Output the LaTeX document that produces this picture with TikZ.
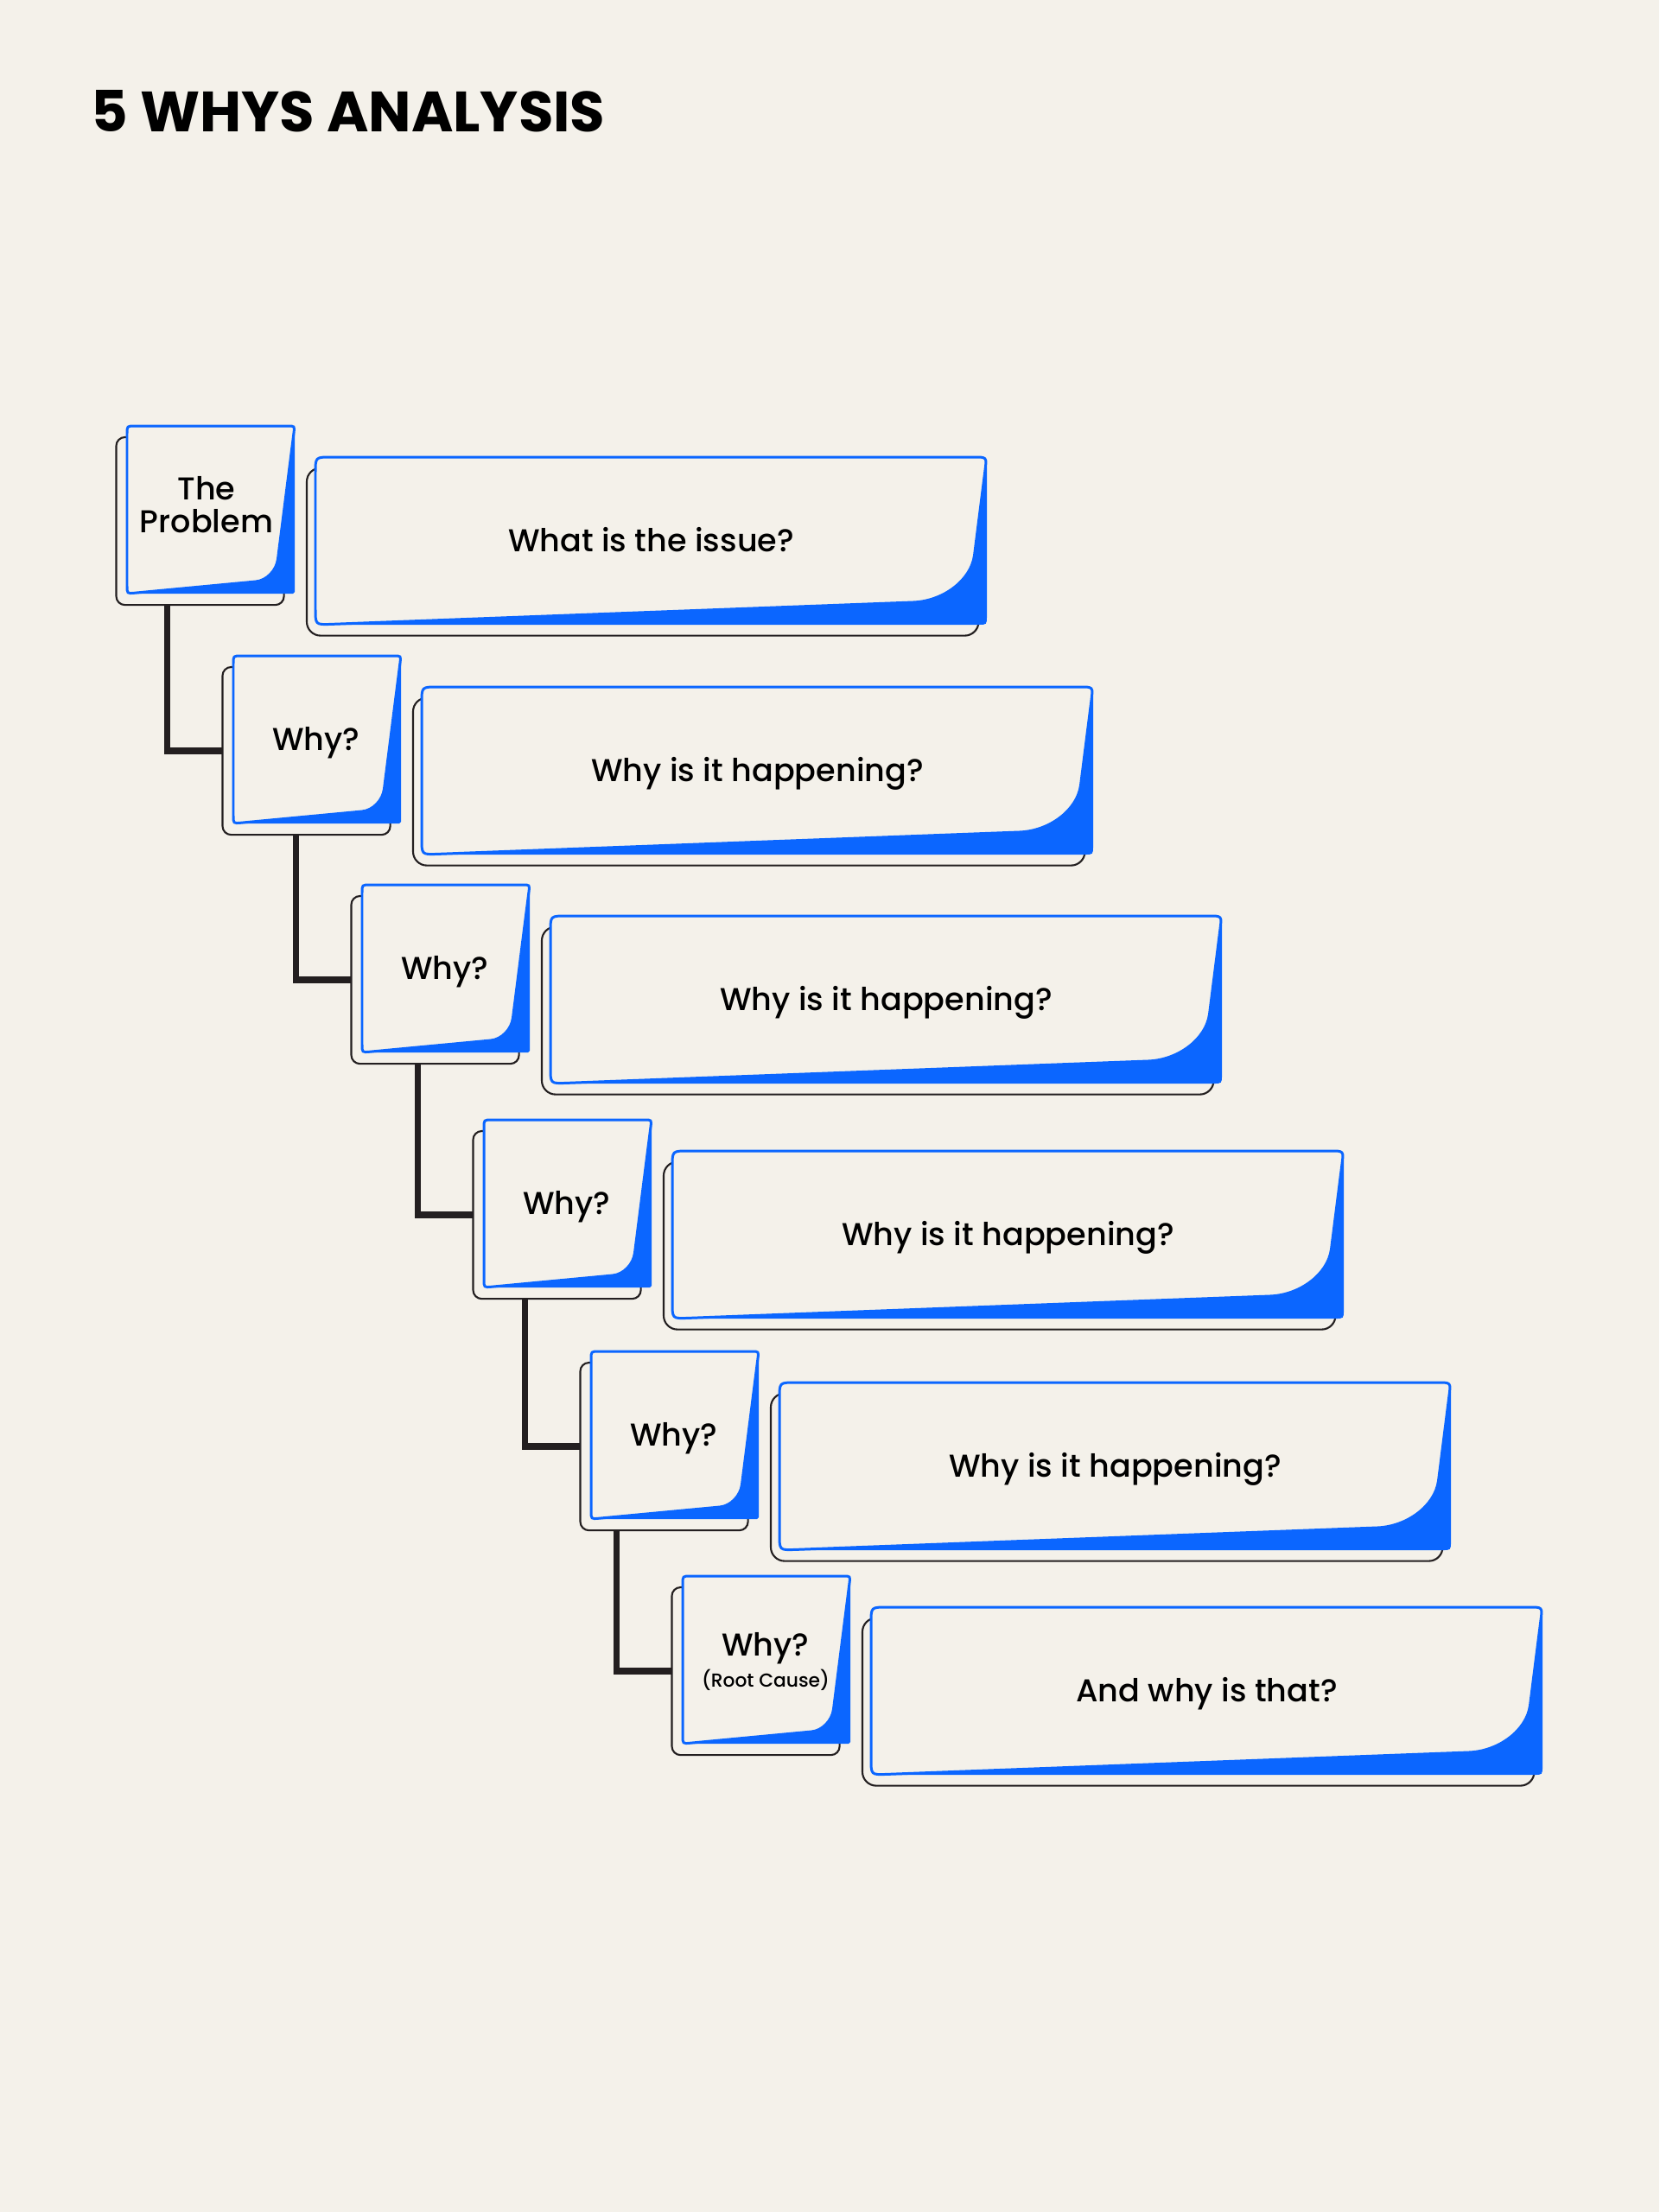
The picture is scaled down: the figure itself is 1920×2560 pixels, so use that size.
\documentclass[tikz,border=0pt]{standalone}
\usepackage{fontspec}
\setmainfont{Poppins}[UprightFont=* Medium,BoldFont=* Bold]
\usepackage{tikz}
\usetikzlibrary{positioning}
\definecolor{paper}{HTML}{F4F1EA}
\definecolor{whyblue}{HTML}{0B66FF}
\definecolor{ink}{HTML}{231F20}

\tikzset{
  sheet/.style={fill=paper, draw=whyblue, line width=0.85pt},
  smallsheet/.pic={
    \fill[whyblue] (186,0) .. controls (194,0) .. (194,8) -- (194,192) -- (192,194) -- (9,194) -- cycle;
    \filldraw[sheet] (0,97) -- (0,9) .. controls (0,0) .. (9,0) -- (186,0)
      .. controls (194,0) .. (193,8) -- (174.5,154)
      .. controls (172.9,167.2) and (161.4,178.9) .. (149,180)
      -- (9,193.2) .. controls (0,194) .. (0,185) -- cycle;
  },
  bigsheet/.pic={
    \fill[whyblue] (762,0) .. controls (777,0) .. (777,15) -- (777,184) .. controls (777,194) .. (767,194) -- (18,194) -- cycle;
    \filldraw[sheet] (0,97) -- (0,18) .. controls (0,0) .. (18,0) -- (762,0)
      .. controls (777,0) .. (775,15) -- (762.5,114)
      .. controls (758.5,142.5) and (726.5,166.8) .. (691.5,168)
      -- (18,193.4) .. controls (0,194) .. (0,176) -- cycle;
  }
}

\begin{document}
\begin{tikzpicture}[x=0.01cm, y=-0.01cm]
  \tikzstyle{backsmall}=[draw=ink, fill=paper, line width=0.6pt, rounded corners=0.1cm,
    anchor=north west, minimum width=1.94cm, minimum height=1.94cm, inner sep=0pt, outer sep=0pt]
  \tikzstyle{backbig}=[backsmall, rounded corners=0.16cm, minimum width=7.77cm]
  \tikzstyle{whytext}=[text=black, anchor=base, inner sep=0pt, align=center,
    font=\fontsize{10.4}{10.73}\selectfont]
  \tikzstyle{roottext}=[whytext, font=\fontsize{6.2}{7}\selectfont]
  \tikzstyle{link}=[draw=ink, line width=2.1pt]
  \useasboundingbox (0,0) rectangle (1920,2560);
  \fill[paper] (0,0) rectangle (1920,2560);

  \node[text=black, anchor=base west, inner sep=0pt, font=\bfseries\fontsize{18.7}{20}\selectfont]
    (title) at (105,152) {5 WHYS ANALYSIS};

  % the problem
  \node[backsmall] (b1) at (134.5,506) {};
  \node[backbig] (c1) at (355,541.5) {};
  \pic at (147,493) {smallsheet};
  \pic at (365,529) {bigsheet};
  \node[whytext] (s1) at (239,616.7) {The\\Problem};
  \node[whytext] (q1) at (753.5,638) {What is the issue?};

  % why 1
  \node[backsmall] (b2) at (257.5,772) {};
  \node[backbig] (c2) at (478,807.5) {};
  \pic at (270,759) {smallsheet};
  \pic at (488,795) {bigsheet};
  \node[whytext] (s2) at (366,868) {Why?};
  \node[whytext] (q2) at (876.5,904) {Why is it happening?};
  \draw[link] (b2.west) -- ++(-64,0) coordinate (k2) -- (k2 |- b1.south);

  % why 2
  \node[backsmall] (b3) at (406.5,1037) {};
  \node[backbig] (c3) at (627,1072.5) {};
  \pic at (419,1024) {smallsheet};
  \pic at (637,1060) {bigsheet};
  \node[whytext] (s3) at (515,1133) {Why?};
  \node[whytext] (q3) at (1025.5,1169) {Why is it happening?};
  \draw[link] (b3.west) -- ++(-64,0) coordinate (k3) -- (k3 |- b2.south);

  % why 3
  \node[backsmall] (b4) at (547.5,1309) {};
  \node[backbig] (c4) at (768,1344.5) {};
  \pic at (560,1296) {smallsheet};
  \pic at (778,1332) {bigsheet};
  \node[whytext] (s4) at (656,1405) {Why?};
  \node[whytext] (q4) at (1166.5,1441) {Why is it happening?};
  \draw[link] (b4.west) -- ++(-64,0) coordinate (k4) -- (k4 |- b3.south);

  % why 4
  \node[backsmall] (b5) at (671.5,1577) {};
  \node[backbig] (c5) at (892,1612.5) {};
  \pic at (684,1564) {smallsheet};
  \pic at (902,1600) {bigsheet};
  \node[whytext] (s5) at (780,1673) {Why?};
  \node[whytext] (q5) at (1290.5,1709) {Why is it happening?};
  \draw[link] (b5.west) -- ++(-64,0) coordinate (k5) -- (k5 |- b4.south);

  % why 5, root cause
  \node[backsmall] (b6) at (777.5,1837) {};
  \node[backbig] (c6) at (998,1872.5) {};
  \pic at (790,1824) {smallsheet};
  \pic at (1008,1860) {bigsheet};
  \node[whytext] (s6) at (886,1916.7) {Why?};
  \node[roottext] (r6) at (886,1952.7) {(Root Cause)};
  \node[whytext] (q6) at (1396.5,1969) {And why is that?};
  \draw[link] (b6.west) -- ++(-64,0) coordinate (k6) -- (k6 |- b5.south);
\end{tikzpicture}
\end{document}
